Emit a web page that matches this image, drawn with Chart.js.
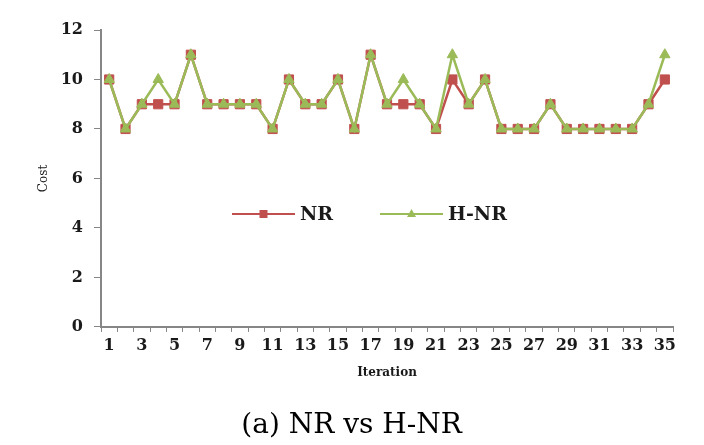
<!DOCTYPE html>
<html>
<head>
<meta charset="utf-8">
<script src="https://cdn.jsdelivr.net/npm/chart.js@4/dist/chart.umd.min.js"></script>
<style>
  html, body { margin: 0; padding: 0; background: #fff; }
  #wrap { width: 704px; height: 445px; }
</style>
</head>
<body>
<div id="wrap"><canvas id="cost_chart" width="704" height="445"></canvas></div>
<script>
// iterations 1..35
const iterations = ['1','2','3','4','5','6','7','8','9','10','11','12','13','14','15','16','17','18',
  '19','20','21','22','23','24','25','26','27','28','29','30','31','32','33','34','35'];
const nrCost  = [10, 8, 9, 9, 9, 11, 9, 9, 9, 9, 8, 10, 9, 9, 10, 8, 11, 9, 9, 9, 8, 10, 9, 10, 8, 8, 8, 9, 8, 8, 8, 8, 8, 9, 10];
const hnrCost = [10, 8, 9, 10, 9, 11, 9, 9, 9, 9, 8, 10, 9, 9, 10, 8, 11, 9, 10, 9, 8, 11, 9, 10, 8, 8, 8, 9, 8, 8, 8, 8, 8, 9, 11];
const costTicks = [0, 2, 4, 6, 8, 10, 12];

const RED = '#C0504D';
const GREEN = '#9BBB59';
const AXIS = '#868686';
const TXT = '#1a1a1a';

// legend drawn inside the plot, like the original figure
const innerLegend = {
  id: 'innerLegend',
  afterDraw(chart, args, opts) {
    const ctx = chart.ctx;
    const y = opts.y;
    // draw in dataset order NR, H-NR
    chart.data.datasets.forEach((ds, i) => {
      const it = opts.items[i];
      const mid = (it.x0 + it.x1) / 2;
      ctx.save();
      ctx.strokeStyle = ds.borderColor;
      ctx.lineWidth = 2;
      ctx.beginPath();
      ctx.moveTo(it.x0, y);
      ctx.lineTo(it.x1, y);
      ctx.stroke();
      ctx.fillStyle = ds.pointBackgroundColor;
      ctx.beginPath();
      if (ds.pointStyle === 'rect') {
        ctx.rect(mid - 4, y - 4, 8, 8);
      } else {
        ctx.moveTo(mid, y - 5);
        ctx.lineTo(mid + 4.5, y + 3);
        ctx.lineTo(mid - 4.5, y + 3);
        ctx.closePath();
      }
      ctx.fill();
      ctx.fillStyle = TXT;
      ctx.font = 'bold 19px "DejaVu Serif"';
      ctx.textBaseline = 'middle';
      ctx.textAlign = 'left';
      ctx.fillText(ds.label, it.x1 + 5, y + 1);
      ctx.restore();
    });
  }
};

const ctx = document.getElementById('cost_chart');

const myChart = new Chart(ctx, {
  type: 'line',
  data: {
    labels: iterations,
    datasets: [
      {
        label: 'NR',
        data: nrCost,
        borderColor: RED,
        borderWidth: 2.5,
        pointStyle: 'rect',
        pointRadius: 6.5,
        pointBackgroundColor: RED,
        pointBorderColor: RED,
        pointBorderWidth: 1,
        tension: 0,
        order: 2,
      },
      {
        label: 'H-NR',
        data: hnrCost,
        borderColor: GREEN,
        borderWidth: 2.5,
        pointStyle: 'triangle',
        pointRadius: 6,
        pointBackgroundColor: GREEN,
        pointBorderColor: GREEN,
        pointBorderWidth: 1,
        tension: 0,
        order: 1,
      }
    ],
  },
  options: {
    responsive: false,
    animation: false,
    layout: {
      padding: { top: 30, left: 30, right: 31, bottom: 0 },
    },
    scales: {
      x: {
        offset: true,
        grid: {
          display: true,
          offset: true,
          drawOnChartArea: false,
          drawTicks: true,
          tickLength: 5,
          color: AXIS,
        },
        border: { display: true, color: AXIS, width: 2 },
        ticks: {
          autoSkip: false,
          maxRotation: 0,
          padding: 4,
          color: TXT,
          font: { family: '"DejaVu Serif"', size: 16, weight: 'bold' },
          callback: function (value, index) {
            return index % 2 === 0 ? this.getLabelForValue(value) : '';
          },
        },
        title: {
          display: true,
          text: 'Iteration',
          color: TXT,
          font: { family: '"DejaVu Serif"', size: 12, weight: 'bold' },
          padding: { top: 4, bottom: 29 },
        },
        afterFit: (s) => { s.height = 82.5; },
      },
      y: {
        min: 0,
        max: 12,
        afterBuildTicks: (s) => { s.ticks = costTicks.map(v => ({ value: v })); },
        grid: {
          display: true,
          drawOnChartArea: false,
          drawTicks: true,
          tickLength: 7,
          color: AXIS,
        },
        border: { display: true, color: AXIS, width: 2 },
        ticks: {
          padding: 11,
          color: TXT,
          font: { family: '"DejaVu Serif"', size: 16, weight: 'bold' },
        },
        title: {
          display: true,
          text: 'Cost',
          color: TXT,
          font: { family: '"DejaVu Serif"', size: 12 },
          padding: { top: 7, bottom: 0 },
        },
        afterFit: (s) => { s.width = 71; },
      },
    },
    plugins: {
      legend: { display: false },
      tooltip: { enabled: false },
      title: {
        display: true,
        position: 'bottom',
        text: '(a) NR vs H-NR',
        color: '#000',
        font: { family: '"DejaVu Serif"', size: 28, weight: 'normal' },
        padding: { top: 0, bottom: 2 },
      },
      innerLegend: {
        y: 214,
        items: [
          { x0: 232, x1: 295 },
          { x0: 380, x1: 443 },
        ],
      },
    },
  },
  plugins: [innerLegend],
});
</script>
</body>
</html>
